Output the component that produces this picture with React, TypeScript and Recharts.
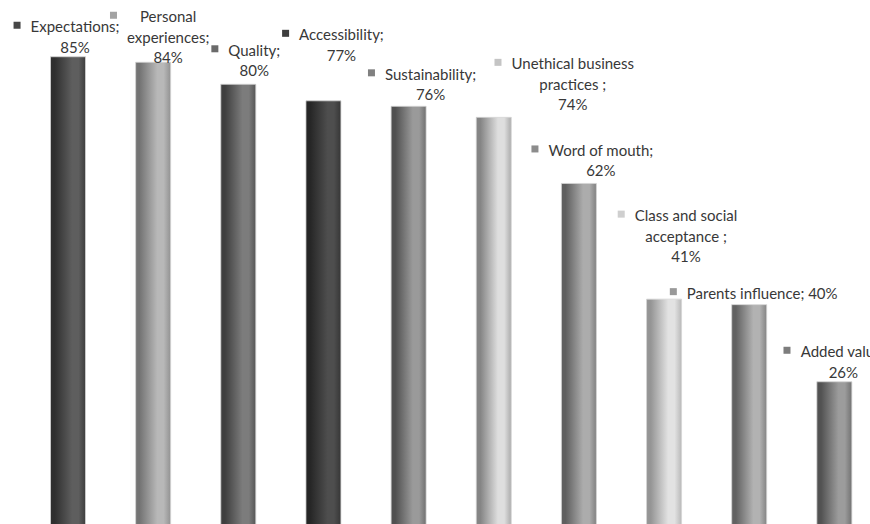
import React from "react";
import { BarChart, Bar, XAxis, YAxis, Cell, LabelList } from "recharts";

const categories = [
  "Expectations",
  "Personal experiences",
  "Quality",
  "Accessibility",
  "Sustainability",
  "Unethical business practices",
  "Word of mouth",
  "Class and social acceptance",
  "Parents influence",
  "Added value",
];
const values = [85, 84, 80, 77, 76, 74, 62, 41, 40, 26];
const labelLines = [
  ["Expectations;"],
  ["Personal", "experiences;"],
  ["Quality;"],
  ["Accessibility;"],
  ["Sustainability;"],
  ["Unethical business", "practices ;"],
  ["Word of mouth;"],
  ["Class and social", "acceptance ;"],
  ["Parents influence;"],
  ["Added value;"],
];
const valueInline = [false, false, false, false, false, false, false, false, true, false];

// styling: [left, mid-light, right, marker]
const shades = [
  ["#2f2f2f", "#5e5e5e", "#3e3e3e", "#474747"],
  ["#747474", "#b8b8b8", "#929292", "#a3a3a3"],
  ["#3f3f3f", "#7c7c7c", "#565656", "#6a6a6a"],
  ["#262626", "#4e4e4e", "#363636", "#3d3d3d"],
  ["#505050", "#9a9a9a", "#707070", "#808080"],
  ["#858585", "#dedede", "#ababab", "#c4c4c4"],
  ["#5f5f5f", "#acacac", "#808080", "#8c8c8c"],
  ["#959595", "#e2e2e2", "#b9b9b9", "#cfcfcf"],
  ["#626262", "#b2b2b2", "#848484", "#999999"],
  ["#525252", "#9c9c9c", "#727272", "#7d7d7d"],
];
// label layout: [dx of block centre from bar centre, dy of last line centre from bar top]
const labelOffsets = [
  [7, -10],
  [15, -5],
  [16, -14],
  [18, -46],
  [22, -12],
  [79, -13],
  [22, -13],
  [22, -43],
  [13, -12],
  [9, -10],
];

const data = categories.map((name, i) => ({ name, value: values[i] }));

const FONT_SIZE = 15;
const FONT_FAMILY = "Lato";
const LINE_H = 20.5;
const TEXT_COLOR = "#383838";

let ctx: CanvasRenderingContext2D | null = null;
function measure(t: string): number {
  if (typeof document !== "undefined") {
    if (!ctx) ctx = document.createElement("canvas").getContext("2d");
    if (ctx) {
      ctx.font = `${FONT_SIZE}px ${FONT_FAMILY}`;
      return ctx.measureText(t).width;
    }
  }
  return t.length * FONT_SIZE * 0.5;
}

const renderLabel = (props: any) => {
  const { x, y, width, value } = props;
  let index = props.index;
  if (index === undefined || index === null) index = values.indexOf(Number(value));
  const bx = Number(x) + Number(width) / 2;
  const by = Number(y);
  const [dx, dy] = labelOffsets[index];
  const cx = bx + dx;
  const lines = valueInline[index]
    ? [...labelLines[index].slice(0, -1), `${labelLines[index][labelLines[index].length - 1]} ${value}%`]
    : [...labelLines[index], `${value}%`];
  const lastY = by + dy;
  const firstY = lastY - (lines.length - 1) * LINE_H;
  const maxW = Math.max(...lines.map(measure));
  const mSize = 7;
  const mx = cx - maxW / 2 - 10 - mSize;
  return (
    <g key={`lbl-${index}`}>
      <rect x={mx} y={firstY - mSize / 2 - 1} width={mSize} height={mSize} fill={shades[index][3]} />
      {lines.map((ln, k) => (
        <text
          key={k}
          x={cx}
          y={firstY + k * LINE_H}
          textAnchor="middle"
          dominantBaseline="central"
          fontFamily={FONT_FAMILY}
          fontSize={FONT_SIZE}
          fill={TEXT_COLOR}
        >
          {ln}
        </text>
      ))}
    </g>
  );
};

export default function App() {
  return (
    <div
      style={{
        position: "absolute",
        left: 0,
        top: 0,
        width: 870,
        height: 524,
        overflow: "hidden",
        background: "#ffffff",
      }}
    >
      <BarChart
        width={877}
        height={530}
        data={data}
        margin={{ top: 0, right: 0, left: 25.5, bottom: 5 }}
      >
        <defs>
          {shades.map((s, i) => (
            <linearGradient key={i} id={`g${i}`} x1="0" y1="0" x2="1" y2="0">
              <stop offset="0%" stopColor={s[0]} />
              <stop offset="12%" stopColor={s[0]} />
              <stop offset="62%" stopColor={s[1]} />
              <stop offset="80%" stopColor={s[1]} />
              <stop offset="100%" stopColor={s[2]} />
            </linearGradient>
          ))}
        </defs>
        <XAxis dataKey="name" hide />
        <YAxis hide domain={[0, 95.3]} />
        <Bar dataKey="value" barSize={35} isAnimationActive={false} stroke="#d4d4d4" strokeWidth={0.8}>
          {data.map((d, i) => (
            <Cell key={d.name} fill={`url(#g${i})`} />
          ))}
          <LabelList dataKey="value" content={renderLabel} />
        </Bar>
      </BarChart>
    </div>
  );
}
